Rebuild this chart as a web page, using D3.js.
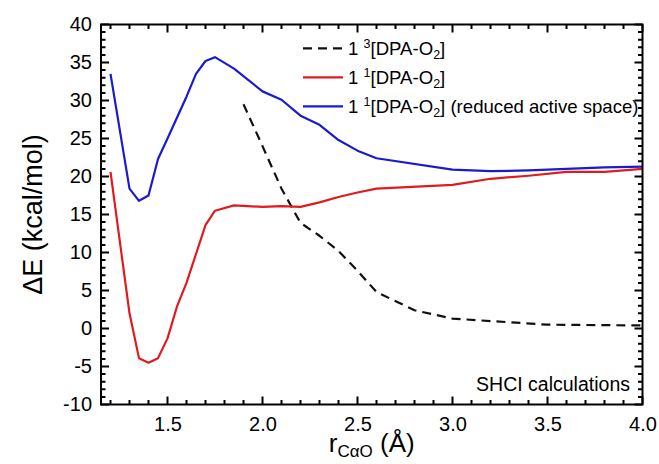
<!DOCTYPE html>
<html>
<head>
<meta charset="utf-8">
<script src="https://cdn.jsdelivr.net/npm/d3@7"></script>
<style>
  html, body { margin: 0; padding: 0; background: #fff; }
  svg { display: block; font-family: 'Liberation Sans', Arial, sans-serif; }
</style>
</head>
<body>
<div id="chart"></div>
<script>
// r_CaO (angstrom) and energies (kcal/mol)
const tripletR = [1.9, 2.0, 2.1, 2.2, 2.3, 2.4, 2.5, 2.6, 2.8, 3.0, 3.5, 4.0]
const tripletE = [29.5, 24.0, 18.4, 13.9, 12.2, 10.2, 7.6, 4.8, 2.4, 1.3, 0.5, 0.4]

const singletR = [1.2, 1.3, 1.35, 1.4, 1.45, 1.5, 1.55, 1.6, 1.65, 1.7, 1.75, 1.85, 2.0, 2.1, 2.2, 2.3, 2.4, 2.5, 2.6, 3.0, 3.2, 3.4, 3.6, 3.8, 4.0]
const singletE = [20.6, 2.0, -3.9, -4.5, -3.9, -1.3, 2.9, 6.0, 9.8, 13.6, 15.5, 16.2, 16.0, 16.1, 16.0, 16.6, 17.3, 17.9, 18.4, 18.9, 19.7, 20.1, 20.6, 20.6, 21.0]

const reducedR = [1.2, 1.3, 1.35, 1.4, 1.45, 1.5, 1.6, 1.65, 1.7, 1.75, 1.85, 2.0, 2.1, 2.2, 2.3, 2.4, 2.5, 2.6, 3.0, 3.2, 3.4, 3.6, 3.8, 4.0]
const reducedE = [33.5, 18.4, 16.8, 17.5, 22.3, 25.0, 30.5, 33.5, 35.2, 35.7, 34.2, 31.2, 30.1, 28.0, 26.8, 24.8, 23.4, 22.4, 20.9, 20.7, 20.8, 21.0, 21.2, 21.3]

const xTicks = [1.5, 2.0, 2.5, 3.0, 3.5, 4.0]
const yTicks = [-10, -5, 0, 5, 10, 15, 20, 25, 30, 35, 40]

const series = [
  { sup: '3', r: tripletR, e: tripletE, color: '#111', dash: '9,6', extra: '' },
  { sup: '1', r: singletR, e: singletE, color: '#e01b1f', dash: null, extra: '' },
  { sup: '1', r: reducedR, e: reducedE, color: '#1a1ad0', dash: null, extra: ' (reduced active space)' }
]

const width = 659, height = 464
const margin = { top: 24.5, right: 16.5, bottom: 59.5, left: 101 }

const svg = d3.select('#chart').append('svg')
  .attr('width', width).attr('height', height)

const x = d3.scaleLinear().domain([1.15, 4.0]).range([margin.left, width - margin.right])
const y = d3.scaleLinear().domain([-10, 40]).range([height - margin.bottom, margin.top])

const x0 = x.range()[0], x1 = x.range()[1]
const y0 = y.range()[0], y1 = y.range()[1]

const minorX = d3.range(12, 41).map(v => v / 10).filter(v => !xTicks.some(t => Math.abs(t - v) < 1e-6))
const minorY = d3.range(-10, 41).filter(v => v % 5 !== 0)

const major = 8, minor = 4.5

// tick labels through d3 axes
const addLabels = (axis, tx, ty) => {
  const g = svg.append('g')
    .attr('transform', `translate(${tx},${ty})`)
    .call(axis)
  g.select('.domain').remove()
  g.selectAll('.tick line').remove()
  g.selectAll('.tick text').attr('fill', '#000').attr('font-size', 20)
    .attr('font-family', "'Liberation Sans', Arial, sans-serif")
}
addLabels(d3.axisBottom(x).tickValues(xTicks).tickSize(0).tickPadding(12).tickFormat(d3.format('.1f')), 0, y0)
addLabels(d3.axisLeft(y).tickValues(yTicks).tickSize(0).tickPadding(9).tickFormat(d => String(d)), x0, 0)

// inward ticks on all four sides
const tickPath = []
xTicks.forEach(v => tickPath.push(`M${x(v)},${y0}v${-major}M${x(v)},${y1}v${major}`))
minorX.forEach(v => tickPath.push(`M${x(v)},${y0}v${-minor}M${x(v)},${y1}v${minor}`))
yTicks.forEach(v => tickPath.push(`M${x0},${y(v)}h${major}M${x1},${y(v)}h${-major}`))
minorY.forEach(v => tickPath.push(`M${x0},${y(v)}h${minor}M${x1},${y(v)}h${-minor}`))
svg.append('path')
  .attr('d', tickPath.join(''))
  .attr('fill', 'none')
  .attr('stroke', '#000')
  .attr('stroke-width', 2)

// curves
const line = d3.line().x(d => x(d[0])).y(d => y(d[1]))
const curves = svg.append('g').attr('class', 'curves')
series.forEach(s => {
  curves.append('path')
    .datum(s.r.map((r, i) => [r, s.e[i]]))
    .attr('d', line)
    .attr('fill', 'none')
    .attr('stroke', s.color)
    .attr('stroke-width', 2.2)
    .attr('stroke-linejoin', 'round')
    .attr('stroke-dasharray', s.dash)
})

// frame
svg.append('rect')
  .attr('x', x0).attr('y', y1)
  .attr('width', x1 - x0).attr('height', y0 - y1)
  .attr('fill', 'none').attr('stroke', '#000').attr('stroke-width', 2)

// legend
const legend = svg.append('g').attr('font-size', 18.6)
series.forEach((s, i) => {
  const ly = 48.3 + i * 29
  legend.append('line')
    .attr('x1', 303).attr('x2', 343).attr('y1', ly).attr('y2', ly)
    .attr('stroke', s.color).attr('stroke-width', 2.2)
    .attr('stroke-dasharray', s.dash)
  const t = legend.append('text').attr('x', 348).attr('y', ly + 6.5)
  t.append('tspan').text('1 ')
  t.append('tspan').attr('font-size', 12.5).attr('dy', -7).text(s.sup)
  t.append('tspan').attr('dy', 7).text('[DPA-O')
  t.append('tspan').attr('font-size', 12.5).attr('dy', 4).text('2')
  t.append('tspan').attr('dy', -4).text(']' + s.extra)
})

svg.append('text')
  .attr('x', 630).attr('y', 391)
  .attr('text-anchor', 'end').attr('font-size', 19.5)
  .text('SHCI calculations')

// axis titles
svg.append('text')
  .attr('transform', `translate(42,${(y0 + y1) / 2}) rotate(-90)`)
  .attr('text-anchor', 'middle').attr('font-size', 27)
  .text('ΔE (kcal/mol)')

const xt = svg.append('text')
  .attr('x', (x0 + x1) / 2).attr('y', 452)
  .attr('text-anchor', 'middle').attr('font-size', 26)
xt.append('tspan').text('r')
xt.append('tspan').attr('font-size', 17).attr('dy', 5).text('CαO')
xt.append('tspan').attr('dy', -5).text(' (Å)')
</script>
</body>
</html>
